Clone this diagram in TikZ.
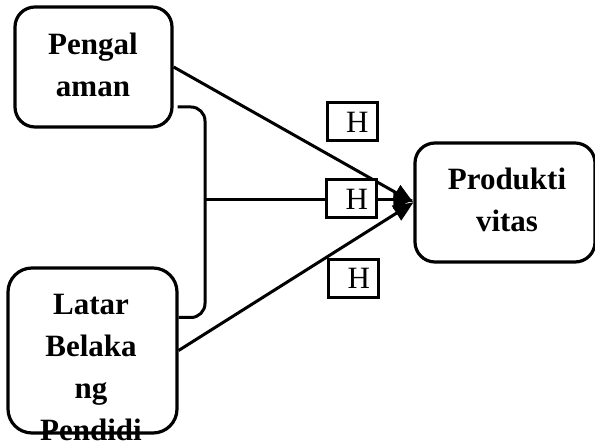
\documentclass[tikz,border=0pt]{standalone}
\usepackage{fontspec}
\setmainfont{Liberation Serif}
\usetikzlibrary{arrows.meta,positioning}

\begin{document}
\begin{tikzpicture}[
    x=1bp, y=1bp,
    box/.style={rectangle, rounded corners=20bp, draw=black, line width=3.2bp, fill=white},
    lbl/.style={align=center, inner sep=0pt, font=\fontsize{31bp}{42bp}\selectfont\bfseries},
    hbox/.style={rectangle, draw=black, line width=3bp, fill=white, minimum width=50bp, minimum height=38bp, inner sep=0pt, text width=33bp, align=right, font=\fontsize{31bp}{36bp}\selectfont},
    link/.style={line width=3bp},
    arrow/.style={-{Triangle[length=20bp, width=17bp]}, line width=3bp}
]
\useasboundingbox (0,0) rectangle (595,444);
% boxes
\node[box, minimum width=157bp, minimum height=120bp] (peng) at (93.5,377) {};
\node[box, minimum width=169bp, minimum height=165bp, rounded corners=24bp] (latar) at (92.5,93.5) {};
\node[box, minimum width=180bp, minimum height=119bp] (prod) at (505,241.5) {};
\coordinate (junc) at (205,244);
% connectors
\draw[link, rounded corners=14bp] ([shift={(4bp,-40bp)}]peng.east) -| (junc) |- ([shift={(0bp,33bp)}]latar.east);
\draw[arrow] (peng.east) -- (prod.west);
\draw[arrow] (junc) -- (junc -| prod.west);
\draw[arrow] (latar.east) -- (prod.west);
% hypotheses
\node[hbox] (h1) at (352,322) {H};
\node[hbox] (h2) at (351.5,245) {H};
\node[hbox] (h3) at (353.5,165.5) {H};
% texts
\node[lbl] (pengtxt) at (93,379) {Pengal\\aman};
\node[lbl] (prodtxt) at (507,244) {Produkti\\vitas};
\node[lbl] (latartxt) at (91,76.5) {Latar\\Belaka\\ng\\Pendidi};
\end{tikzpicture}
\end{document}
